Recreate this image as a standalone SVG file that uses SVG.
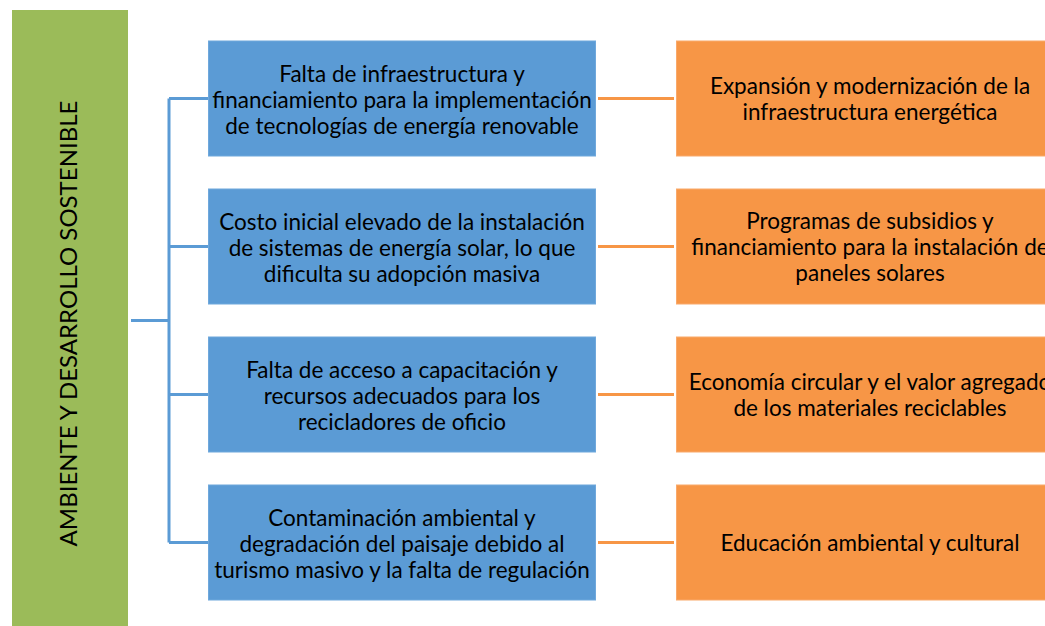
<svg xmlns="http://www.w3.org/2000/svg" width="1045" height="626" viewBox="0 0 1045 626">
<style>
.t{font-family:Lato,"Open Sans","Liberation Sans",sans-serif;font-size:22.5px;fill:#000;text-anchor:middle}
.blue{fill:#5B9BD5;stroke:#6FA8DC;stroke-width:1}
.org{fill:#F79646;stroke:#F9A96B;stroke-width:1}
.br{fill:none;stroke:#5B9BD5;stroke-width:3}
.oc{fill:none;stroke:#F79646;stroke-width:3}
</style>
<rect width="1045" height="626" fill="#fff"/>
<g id="root">
<rect x="12" y="10" width="116" height="616" fill="#9BBB59"/>
<text class="t" transform="translate(77,323.5) rotate(-90)" style="font-size:24px">AMBIENTE Y DESARROLLO SOSTENIBLE</text>
</g>
<g id="connectors">
<path class="br" d="M131 320.5H169M169 98.5V542.5M169 98.5H208M169 246.5H208M169 394.5H208M169 542.5H208"/>
<path class="oc" d="M598 98.5H674M598 246.5H674M598 394.5H674M598 542.5H674"/>
</g>
<g id="p1">
<rect class="blue" x="208.5" y="41" width="387" height="115"/>
<text class="t" x="402" y="82">Falta de infraestructura y</text>
<text class="t" x="402" y="108">financiamiento para la implementación</text>
<text class="t" x="402" y="134">de tecnologías de energía renovable</text>
</g>
<g id="p2">
<rect class="blue" x="208.5" y="189" width="387" height="115"/>
<text class="t" x="402" y="230">Costo inicial elevado de la instalación</text>
<text class="t" x="402" y="256">de sistemas de energía solar, lo que</text>
<text class="t" x="402" y="282">dificulta su adopción masiva</text>
</g>
<g id="p3">
<rect class="blue" x="208.5" y="337" width="387" height="115"/>
<text class="t" x="402" y="378">Falta de acceso a capacitación y</text>
<text class="t" x="402" y="404">recursos adecuados para los</text>
<text class="t" x="402" y="430">recicladores de oficio</text>
</g>
<g id="p4">
<rect class="blue" x="208.5" y="485" width="387" height="115"/>
<text class="t" x="402" y="526">Contaminación ambiental y</text>
<text class="t" x="402" y="552">degradación del paisaje debido al</text>
<text class="t" x="402" y="578">turismo masivo y la falta de regulación</text>
</g>
<g id="s1">
<rect class="org" x="676.5" y="41" width="369" height="115"/>
<text class="t" x="870" y="94">Expansión y modernización de la</text>
<text class="t" x="870" y="120">infraestructura energética</text>
</g>
<g id="s2">
<rect class="org" x="676.5" y="189" width="369" height="115"/>
<text class="t" x="870" y="229">Programas de subsidios y</text>
<text class="t" x="870" y="255">financiamiento para la instalación de</text>
<text class="t" x="870" y="281">paneles solares</text>
</g>
<g id="s3">
<rect class="org" x="676.5" y="337" width="369" height="115"/>
<text class="t" x="870" y="390">Economía circular y el valor agregado</text>
<text class="t" x="870" y="416">de los materiales reciclables</text>
</g>
<g id="s4">
<rect class="org" x="676.5" y="485" width="369" height="115"/>
<text class="t" x="870" y="551">Educación ambiental y cultural</text>
</g>
</svg>
